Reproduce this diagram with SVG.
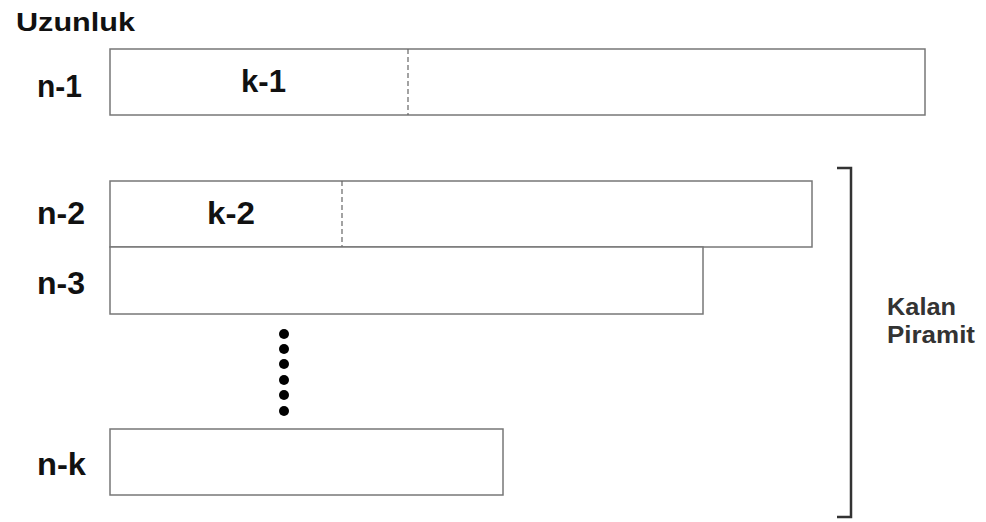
<svg xmlns="http://www.w3.org/2000/svg" width="986" height="522" viewBox="0 0 986 522">
<style>
.box{fill:#fff;stroke:#777;stroke-width:1.5}
.dash{stroke:#666;stroke-width:1.2;stroke-dasharray:5,3}
.lbl{font-family:"Liberation Sans",Arial,sans-serif;font-weight:bold;font-size:32px;fill:#111}
.ttl{font-family:"Liberation Sans",Arial,sans-serif;font-weight:bold;font-size:26px;fill:#111}
.side{font-family:"Liberation Sans",Arial,sans-serif;font-weight:bold;font-size:24px;fill:#333}
</style>
<rect width="986" height="522" fill="#fff"/>
<text class="ttl" x="16" y="31" textLength="119" lengthAdjust="spacingAndGlyphs">Uzunluk</text>
<g id="row1">
<rect class="box" x="110" y="49" width="815" height="66"/>
<line class="dash" x1="408" y1="49" x2="408" y2="115"/>
<text class="lbl" x="37" y="97" textLength="45" lengthAdjust="spacingAndGlyphs">n-1</text>
<text class="lbl" x="241" y="92" textLength="45" lengthAdjust="spacingAndGlyphs">k-1</text>
</g>
<g id="row2">
<rect class="box" x="110" y="181" width="702" height="66"/>
<line class="dash" x1="342" y1="181" x2="342" y2="247"/>
<text class="lbl" x="37" y="224" textLength="48" lengthAdjust="spacingAndGlyphs">n-2</text>
<text class="lbl" x="207" y="224" textLength="48" lengthAdjust="spacingAndGlyphs">k-2</text>
</g>
<g id="row3">
<rect class="box" x="110" y="247" width="593" height="67"/>
<text class="lbl" x="37" y="294" textLength="48" lengthAdjust="spacingAndGlyphs">n-3</text>
</g>
<g id="dots" fill="#000">
<circle cx="284" cy="334" r="5"/>
<circle cx="284" cy="349" r="5"/>
<circle cx="284" cy="364" r="5"/>
<circle cx="284" cy="380" r="5"/>
<circle cx="284" cy="395" r="5"/>
<circle cx="284" cy="411" r="5"/>
</g>
<g id="rowk">
<rect class="box" x="110" y="429" width="393" height="66"/>
<text class="lbl" x="37" y="475" textLength="49" lengthAdjust="spacingAndGlyphs">n-k</text>
</g>
<g id="bracket">
<path d="M837 168 H851 V517 H837" fill="none" stroke="#333" stroke-width="2.5"/>
<text class="side" x="887" y="315" textLength="69" lengthAdjust="spacingAndGlyphs">Kalan</text>
<text class="side" x="887" y="343" textLength="88" lengthAdjust="spacingAndGlyphs">Piramit</text>
</g>
</svg>
